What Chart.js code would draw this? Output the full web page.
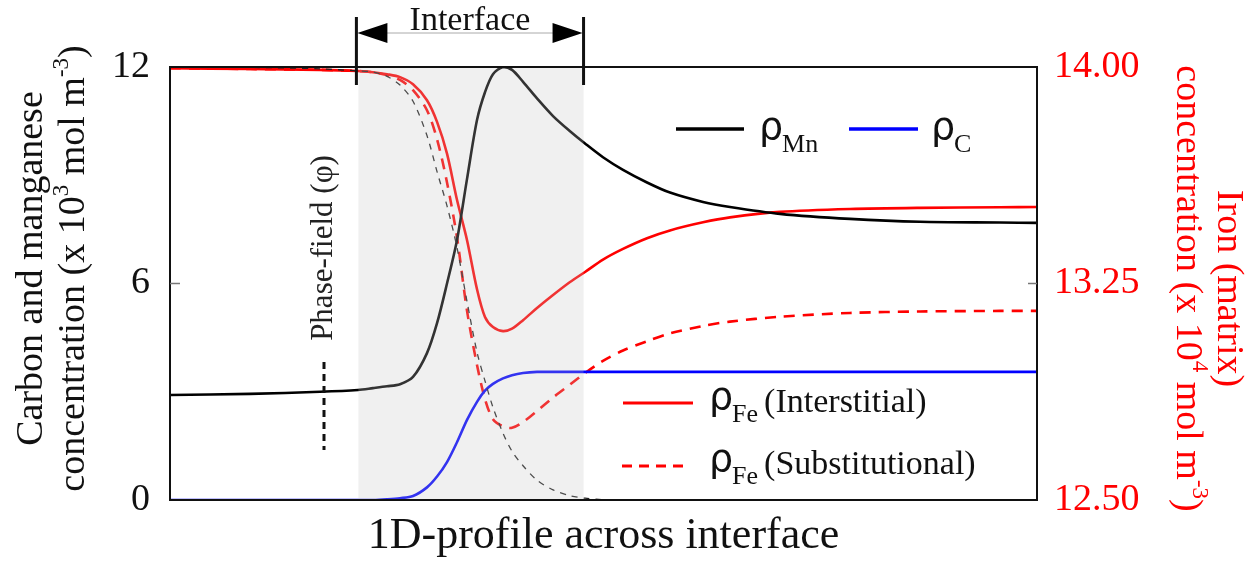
<!DOCTYPE html>
<html>
<head>
<meta charset="utf-8">
<script src="https://cdn.jsdelivr.net/npm/chart.js@4"></script>
<style>
  html, body { margin: 0; padding: 0; background: #fff; }
  #wrap { width: 1259px; height: 570px; }
</style>
</head>
<body>
<div id="wrap"><canvas id="profile" width="1259" height="570"></canvas></div>
<script>
// position along the 1D profile (0 = left edge of plot, 100 = right edge)
const profile_x = [0, 9.23, 17.30, 21.68, 23.41, 25.03, 26.53, 28.03, 29.64, 30.80, 31.95, 33.10, 34.26, 35.41, 36.33, 37.25, 38.41,
                   39.45, 40.72, 42.33, 44.18, 46.14, 47.87, 49.94, 52.25, 55.02, 57.67, 61.48, 64.59, 70.36, 78.43, 86.51, 95.73, 100];

// left axis (x 10^3 mol m^-3)
const rho_mn = [2.91, 2.94, 3.0, 3.05, 3.1, 3.15, 3.21, 3.41, 4.07, 4.9, 6.0, 7.2, 8.9, 10.53, 11.3, 11.8, 12.0,
                11.92, 11.59, 11.13, 10.64, 10.22, 9.88, 9.5, 9.15, 8.8, 8.52, 8.26, 8.12, 7.93, 7.79, 7.71, 7.69, 7.68];
const rho_c = [0, 0, 0, 0, 0, 0.02, 0.05, 0.11, 0.35, 0.65, 1.05, 1.6, 2.22, 2.72, 3.03, 3.22, 3.37,
               3.46, 3.52, 3.55, 3.55, 3.55, 3.55, 3.55, 3.55, 3.55, 3.55, 3.55, 3.55, 3.55, 3.55, 3.55, 3.55, 3.55];
// phase-field, drawn on the left scale (1 -> 12, 0 -> 0)
const phase_field = [12, 11.99, 11.95, 11.89, 11.86, 11.74, 11.5, 11.05, 10.1, 9.1, 8.15, 7.0, 5.5, 4.1, 3.3, 2.57, 1.85,
                     1.35, 0.95, 0.55, 0.28, 0.12, 0.05, 0.01, 0, null, null, null, null, null, null, null, null, null];

// right axis (x 10^4 mol m^-3)
const rho_fe_inter = [13.996, 13.993, 13.99, 13.986, 13.982, 13.975, 13.965, 13.94, 13.885, 13.81, 13.70, 13.54, 13.40, 13.23, 13.134, 13.099, 13.085,
                      13.094, 13.123, 13.165, 13.21, 13.255, 13.29, 13.333, 13.37, 13.407, 13.434, 13.462, 13.479, 13.498, 13.508, 13.512, 13.514, 13.515];
const rho_fe_subst = [13.996, 13.993, 13.99, 13.986, 13.982, 13.972, 13.955, 13.92, 13.85, 13.75, 13.6, 13.41, 13.155, 12.968, 12.85, 12.78, 12.755,
                      12.75, 12.77, 12.808, 12.855, 12.9, 12.94, 12.982, 13.018, 13.05, 13.077, 13.103, 13.118, 13.135, 13.148, 13.153, 13.155, 13.155];

const left_ticks = [0, 6, 12];
const right_ticks = [12.5, 13.25, 14.0];
const interface_bounds = [21.5, 47.7];

// axis titles, split in runs so the exponents can be raised
const left_title = [
    [{ t: 'Carbon and manganese' }],
    [{ t: 'concentration (x 10' }, { t: '3', sup: true }, { t: ' mol m' }, { t: '-3', sup: true }, { t: ')' }]
];
const right_title = [
    [{ t: 'Iron (matrix)' }],
    [{ t: 'concentration (x 10' }, { t: '4', sup: true }, { t: ' mol m' }, { t: '-3', sup: true }, { t: ')' }]
];

const SERIF = "'Liberation Serif', 'DejaVu Serif', serif";
const SANS = "'DejaVu Sans', sans-serif";
const INK = '#111';

function points(values)
{
    return profile_x.map((x, i) => ({ x: x, y: values[i] }));
}

function setTicks(list)
{
    return (scale) => { scale.ticks = list.map((v) => ({ value: v })); };
}

function runFont(run, size)
{
    return (run.sup ? Math.round(size * 0.6) : size) + 'px ' + SERIF;
}

// one line of mixed-size text, centred on (cx, cy) and turned by angle
function drawRichLine(ctx, runs, cx, cy, angle, size, color)
{
    ctx.save();
    ctx.translate(cx, cy);
    ctx.rotate(angle);
    ctx.fillStyle = color;
    ctx.textAlign = 'left';
    ctx.textBaseline = 'alphabetic';
    let total = 0;
    const widths = runs.map((r) => { ctx.font = runFont(r, size); const w = ctx.measureText(r.t).width; total += w; return w; });
    let x = -total / 2;
    runs.forEach((r, i) => {
        ctx.font = runFont(r, size);
        ctx.fillText(r.t, x, size * 0.32 - (r.sup ? size * 0.42 : 0));
        x += widths[i];
    });
    ctx.restore();
}

// rho + subscript + optional suffix
function drawSymbol(ctx, x, y, sub, suffix)
{
    ctx.fillStyle = INK;
    ctx.textAlign = 'left';
    ctx.textBaseline = 'alphabetic';
    ctx.font = '38px ' + SANS;
    ctx.fillText('\u03c1', x, y);
    const w = ctx.measureText('\u03c1').width;
    ctx.font = '26px ' + SERIF;
    ctx.fillText(sub, x + w - 1, y + 13);
    if (suffix) {
        const sw = ctx.measureText(sub).width;
        ctx.font = '34px ' + SERIF;
        ctx.fillText(suffix, x + w + sw + 5, y + 3);
    }
}

const overlay = {
    id: 'overlay',
    afterDatasetsDraw(chart)
    {
        const ctx = chart.ctx;
        const area = chart.chartArea;
        const xs = chart.scales.x;
        const x0 = xs.getPixelForValue(interface_bounds[0]);
        const x1 = xs.getPixelForValue(interface_bounds[1]);
        ctx.save();

        //Interface band sits on top of the curves
        ctx.fillStyle = 'rgba(197,197,197,0.26)';
        ctx.fillRect(x0 + 2, area.top + 1, x1 - x0 - 2, area.bottom - area.top - 1);

        //Frame
        ctx.strokeStyle = INK;
        ctx.lineWidth = 2;
        ctx.strokeRect(area.left, area.top, area.right - area.left, area.bottom - area.top);

        //Inner ticks at the middle values
        ctx.strokeStyle = '#777';
        ctx.lineWidth = 1.5;
        const yl = chart.scales.yL.getPixelForValue(left_ticks[1]);
        const yr = chart.scales.yR.getPixelForValue(right_ticks[1]);
        ctx.beginPath();
        ctx.moveTo(area.left, yl); ctx.lineTo(area.left + 10, yl);
        ctx.moveTo(area.right, yr); ctx.lineTo(area.right - 9, yr);
        ctx.stroke();

        //Axis titles
        const midL = (area.top + area.bottom) / 2 - 15;
        const midR = (area.top + area.bottom) / 2 + 5;
        drawRichLine(ctx, left_title[0], 30, midL, -Math.PI / 2, 38, INK);
        drawRichLine(ctx, left_title[1], 72, midL, -Math.PI / 2, 38, INK);
        drawRichLine(ctx, right_title[0], 1230, midR, Math.PI / 2, 38, '#ff0000');
        drawRichLine(ctx, right_title[1], 1189, midR, Math.PI / 2, 38, '#ff0000');

        //Interface marker above the plot
        ctx.strokeStyle = INK;
        ctx.lineWidth = 3;
        ctx.beginPath();
        ctx.moveTo(x0, 17); ctx.lineTo(x0, 85);
        ctx.moveTo(x1, 17); ctx.lineTo(x1, 85);
        ctx.stroke();
        ctx.strokeStyle = '#aaa';
        ctx.lineWidth = 1;
        ctx.beginPath();
        ctx.moveTo(x0 + 30, 33); ctx.lineTo(x1 - 30, 33);
        ctx.stroke();
        ctx.fillStyle = '#000';
        ctx.beginPath();
        ctx.moveTo(x0 + 1, 33); ctx.lineTo(x0 + 31, 23); ctx.lineTo(x0 + 31, 43); ctx.closePath();
        ctx.moveTo(x1 - 1, 33); ctx.lineTo(x1 - 31, 23); ctx.lineTo(x1 - 31, 43); ctx.closePath();
        ctx.fill();
        ctx.fillStyle = INK;
        ctx.font = '34px ' + SERIF;
        ctx.textAlign = 'center';
        ctx.textBaseline = 'alphabetic';
        ctx.fillText('Interface', (x0 + x1) / 2, 30);

        //Phase-field label with its dashed key
        ctx.save();
        ctx.translate(324, 248);
        ctx.rotate(-Math.PI / 2);
        ctx.font = '31px ' + SERIF;
        ctx.fillStyle = '#222';
        ctx.textBaseline = 'middle';
        ctx.fillText('Phase-field (\u03c6)', 0, 0);
        ctx.restore();
        ctx.strokeStyle = INK;
        ctx.lineWidth = 3;
        ctx.setLineDash([7, 5]);
        ctx.beginPath();
        ctx.moveTo(324, 362); ctx.lineTo(324, 450);
        ctx.stroke();

        //Legends
        ctx.setLineDash([]);
        ctx.lineWidth = 3.5;
        ctx.strokeStyle = '#000';
        ctx.beginPath(); ctx.moveTo(676, 129); ctx.lineTo(744, 129); ctx.stroke();
        drawSymbol(ctx, 759, 139, 'Mn');
        ctx.strokeStyle = '#0000ff';
        ctx.beginPath(); ctx.moveTo(849, 129); ctx.lineTo(918, 129); ctx.stroke();
        drawSymbol(ctx, 931, 139, 'C');

        ctx.strokeStyle = '#ff0000';
        ctx.lineWidth = 3;
        ctx.beginPath(); ctx.moveTo(623, 403); ctx.lineTo(693, 403); ctx.stroke();
        drawSymbol(ctx, 709, 409, 'Fe', '(Interstitial)');
        ctx.setLineDash([10, 7]);
        ctx.beginPath(); ctx.moveTo(622, 466); ctx.lineTo(690, 466); ctx.stroke();
        ctx.setLineDash([]);
        drawSymbol(ctx, 709, 471, 'Fe', '(Substitutional)');

        ctx.restore();
    }
};

const datasets = [
    { label: 'phase-field', data: points(phase_field), yAxisID: 'yL', borderColor: '#222', borderWidth: 1.3, borderDash: [6, 6] },
    { label: 'Mn', data: points(rho_mn), yAxisID: 'yL', borderColor: '#000', borderWidth: 2.6 },
    { label: 'C', data: points(rho_c), yAxisID: 'yL', borderColor: '#0000ff', borderWidth: 2.6 },
    { label: 'Fe subst', data: points(rho_fe_subst), yAxisID: 'yR', borderColor: '#ff0000', borderWidth: 2.6, borderDash: [11, 8] },
    { label: 'Fe inter', data: points(rho_fe_inter), yAxisID: 'yR', borderColor: '#ff0000', borderWidth: 2.6 }
];

const chart = new Chart(document.getElementById('profile').getContext('2d'), {
    type: 'line',
    data: { datasets: datasets },
    plugins: [overlay],
    options: {
        responsive: false,
        animation: false,
        devicePixelRatio: 1,
        layout: { padding: { top: 67, left: 0, right: 0, bottom: 0 } },
        elements: { point: { radius: 0 }, line: { tension: 0.3, fill: false } },
        plugins: { legend: { display: false }, tooltip: { enabled: false } },
        scales: {
            x: {
                type: 'linear', min: 0, max: 100,
                grid: { display: false, drawTicks: false },
                border: { display: false },
                ticks: { display: false },
                title: { display: true, text: '1D-profile across interface', color: INK,
                         font: { family: SERIF, size: 44, lineHeight: 1.2 }, padding: { top: 0, bottom: 7 } },
                afterFit: (s) => { s.height = 70; }
            },
            yL: {
                position: 'left', min: 0, max: 12,
                grid: { display: false, drawTicks: false },
                border: { display: false },
                afterBuildTicks: setTicks(left_ticks),
                ticks: { color: INK, padding: 20, font: { family: SERIF, size: 38 } },
                title: { display: false },
                afterFit: (s) => { s.width = 170; }
            },
            yR: {
                position: 'right', min: 12.5, max: 14,
                grid: { display: false, drawTicks: false },
                border: { display: false },
                afterBuildTicks: setTicks(right_ticks),
                ticks: { color: '#ff0000', padding: 17, font: { family: SERIF, size: 38 },
                         callback: (v) => Number(v).toFixed(2) },
                title: { display: false },
                afterFit: (s) => { s.width = 222; }
            }
        }
    }
});
</script>
</body>
</html>
